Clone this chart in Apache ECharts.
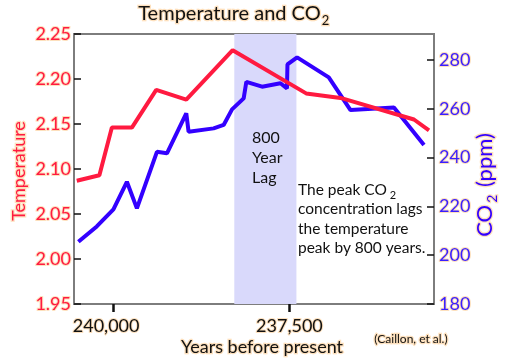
<!DOCTYPE html>
<html><head><meta charset="utf-8">
<script src="https://cdn.jsdelivr.net/npm/echarts@6/dist/echarts.min.js"></script>
<style>html,body{margin:0;padding:0;background:#fff}#c{width:511px;height:364px}</style>
</head><body><div id="c"></div>
<script>
// ---- data ----
const tempYears  = [240516, 240195, 240018, 239734, 239389, 238963, 238305, 237263, 236776, 235734, 235521];
const tempValues = [2.087, 2.093, 2.146, 2.146, 2.188, 2.177, 2.232, 2.184, 2.179, 2.155, 2.143];
const co2Years  = [240493, 240232, 239996, 239805, 239663, 239379, 239237, 238963, 238930, 238575, 238433, 238314, 238149, 238111, 237888, 237628, 237535, 237528, 237391, 236942, 236634, 236018, 235592];
const co2Values = [205.5, 211.8, 218.8, 230.1, 219.2, 242.4, 241.8, 258.2, 250.6, 252.0, 253.4, 259.8, 264.3, 271.1, 269.1, 270.5, 268.4, 278.2, 281.1, 272.9, 259.5, 260.6, 245.2];
const xTickValues = [240000, 237500];
const lagBand = [238282, 237401];

const FONT = 'Lato';
const RED = '#ff1a40';
const BLUE = '#3300ff';
const HALO = '#fde0bd';

const chart = echarts.init(document.getElementById('c'), null, {renderer: 'canvas'});
const tempData = tempYears.map((y, i) => [y, tempValues[i]]);
const co2Data = co2Years.map((y, i) => [y, co2Values[i]]);

const halo = {stroke: HALO, lineWidth: 2.5, strokeFirst: true};

const option = {
  animation: false,
  backgroundColor: '#fff',
  grid: {left: 74, right: 77, top: 34, bottom: 60, show: true, borderColor: '#7d7d7d', borderWidth: 2},
  xAxis: {
    type: 'value', inverse: true, min: 235450, max: 240555,
    axisLine: {show: true, lineStyle: {color: '#7d7d7d', width: 2}},
    splitLine: {show: false},
    axisTick: {show: true, customValues: xTickValues, length: 8, lineStyle: {color: '#111', width: 2.5}},
    axisLabel: {customValues: xTickValues,
      formatter: v => v === 240000 ? '{l|' + v.toLocaleString('en-US') + '}' : v.toLocaleString('en-US'),
      rich: {l: {padding: [0, 14, 0, 0], fontSize: 18, fontFamily: FONT, color: '#111', textBorderColor: HALO, textBorderWidth: 2}},
      color: '#111', fontSize: 18, fontFamily: FONT, margin: 13, textBorderColor: HALO, textBorderWidth: 2}
  },
  yAxis: [
    {
      type: 'value', min: 1.95, max: 2.25, interval: 0.05, position: 'left',
      axisLine: {show: true, lineStyle: {color: '#7d7d7d', width: 2}},
      axisTick: {show: true, inside: true, length: 7, lineStyle: {color: '#111', width: 1.5}},
      splitLine: {show: false},
      axisLabel: {color: RED, fontSize: 18, fontFamily: FONT, margin: 3, formatter: v => v.toFixed(2),
        textBorderColor: HALO, textBorderWidth: 2}
    },
    {
      type: 'value', min: 180, max: 290.7, interval: 20, position: 'right',
      axisLine: {show: true, lineStyle: {color: '#7d7d7d', width: 2}},
      axisTick: {show: true, inside: true, length: 7, lineStyle: {color: '#111', width: 1.5}},
      splitLine: {show: false},
      axisLabel: {color: '#3a1eff', fontSize: 18, fontFamily: FONT, margin: 5, showMaxLabel: false,
        textBorderColor: HALO, textBorderWidth: 2}
    }
  ],
  series: [
    {
      type: 'line', yAxisIndex: 1, data: co2Data, symbol: 'none',
      lineStyle: {color: BLUE, width: 4}, z: 3,
      markArea: {silent: true, itemStyle: {color: '#d9d9fb'}, data: [[{xAxis: lagBand[0]}, {xAxis: lagBand[1]}]]}
    },
    {
      type: 'line', yAxisIndex: 0, data: tempData, symbol: 'none',
      lineStyle: {color: RED, width: 4}, z: 4
    }
  ],
  graphic: [
    {type: 'text', left: 137, top: 0, z: 100, style: {
      text: '{a|Temperature and CO}{b|2}', fill: '#111',
      rich: {a: Object.assign({fontSize: 20, fontFamily: FONT, fill: '#111', lineHeight: 28}, halo),
             b: Object.assign({fontSize: 13, fontFamily: FONT, fill: '#111', padding: [14, 0, 0, 1], lineHeight: 28}, halo)}
    }},
    {type: 'text', x: 19, y: 171, z: 100, rotation: Math.PI / 2, style: Object.assign({
      text: 'Temperature', fill: RED, font: '18px ' + FONT, align: 'center', verticalAlign: 'middle'
    }, halo)},
    {type: 'text', x: 485, y: 185, z: 100, rotation: Math.PI / 2, style: {
      text: '{a|CO}{b|2}{a| (ppm)}', align: 'center', verticalAlign: 'middle',
      rich: {a: Object.assign({fontSize: 22, fontFamily: FONT, fill: BLUE, lineHeight: 28}, halo),
             b: Object.assign({fontSize: 14, fontFamily: FONT, fill: BLUE, padding: [15, 2, 0, 2], lineHeight: 28}, halo)}
    }},
    {type: 'text', x: 262, y: 347, z: 100, style: Object.assign({
      text: 'Years before present', fill: '#111', font: '18px ' + FONT, align: 'center', verticalAlign: 'middle'
    }, halo)},
    {type: 'text', x: 411, y: 339, z: 100, style: Object.assign({
      text: '(Caillon, et al.)', fill: '#111', font: '12px ' + FONT, align: 'center', verticalAlign: 'middle'
    }, halo)},
    {type: 'text', x: 252, y: 128, z: 100, style: {
      text: '800\nYear\nLag', fill: '#111', font: '16px ' + FONT, align: 'left', verticalAlign: 'top', lineHeight: 20
    }},
    {type: 'text', x: 298, y: 180, z: 100, style: {
      text: '{a|The peak CO}{b|2}\n{a|concentration lags}\n{a|the temperature}\n{a|peak by 800 years.}',
      rich: {a: {fontSize: 15.5, fontFamily: FONT, fill: '#111', lineHeight: 19.5},
             b: {fontSize: 11, fontFamily: FONT, fill: '#111', padding: [12, 0, 0, 3], lineHeight: 19.5}}
    }}
  ]
};
chart.setOption(option);
</script></body></html>
